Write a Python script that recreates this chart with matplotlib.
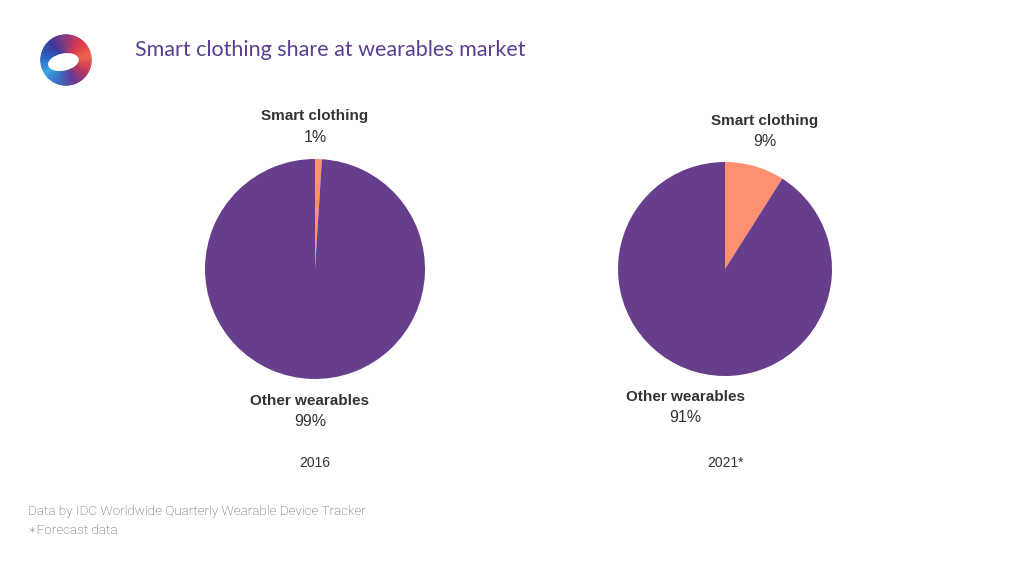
import numpy as np
import matplotlib
matplotlib.use('Agg')
import matplotlib.pyplot as plt
from matplotlib.patches import Wedge, Ellipse
from matplotlib.colors import LinearSegmentedColormap

plt.rcParams.update({
    "font.family": ["Liberation Sans", "DejaVu Sans"],
})

W, H = 1024, 576

# data
years = ['2016', '2021*']
categories = ['Smart clothing', 'Other wearables']
smart_share = [1, 9]
other_share = [99, 91]

PURPLE = '#673e8c'
SALMON = '#fe9070'
TEXT = '#333333'

fig = plt.figure(figsize=(W / 100, H / 100), dpi=100)
fig.patch.set_facecolor('white')


def px(x, y):
    return x / W, 1 - y / H


# pie positions (centre x, centre y, radius) in pixels
pies = [(315, 269, 110), (725, 269, 107)]
# label anchors: smart label, other label
label_pos = [((315, 116), (310, 401)), ((765, 121), (685, 397))]

for i, (cx, cy, r) in enumerate(pies):
    ax = fig.add_axes([(cx - r) / W, 1 - (cy + r) / H, 2 * r / W, 2 * r / H])
    ax.pie([smart_share[i], other_share[i]], colors=[SALMON, PURPLE],
           startangle=90, counterclock=False, radius=1,
           wedgeprops=dict(linewidth=0))
    ax.set_xlim(-1, 1)
    ax.set_ylim(-1, 1)
    ax.set_aspect('auto')
    ax.axis('off')

    (sx, sy), (ox, oy) = label_pos[i]
    vals = [smart_share[i], other_share[i]]
    for (lx, ly), cat, v in zip([(sx, sy), (ox, oy)], categories, vals):
        fig.text(*px(lx, ly), cat, ha='center', va='center', fontsize=11,
                 fontweight='bold', color=TEXT)
        fig.text(*px(lx, ly + 21), f'{v}%', ha='center', va='center',
                 fontsize=11.5, color=TEXT)
    fig.text(*px(cx, 463), years[i], ha='center', va='center',
             fontsize=10, color=TEXT)

# title
fig.text(*px(135, 50), 'Smart clothing share at wearables market', ha='left',
         va='center', fontsize=15.5, color='#5a3f91', family=['Lato', 'DejaVu Sans'])

# footnote
fig.text(*px(28, 511), 'Data by IDC Worldwide Quarterly Wearable Device Tracker',
         ha='left', va='center', fontsize=9.7, color='#555555',
         family=['Roboto', 'DejaVu Sans'], fontweight='light')
fig.text(*px(28, 530), '\u2217Forecast data', ha='left', va='center',
         fontsize=9.7, color='#555555', family=['Roboto', 'DejaVu Sans'],
         fontweight='light')

# logo ring with a smooth colour sweep
lax = fig.add_axes([40 / W, 1 - 86 / H, 52 / W, 52 / H])
lax.set_xlim(-1, 1)
lax.set_ylim(-1, 1)
lax.axis('off')
sweep = LinearSegmentedColormap.from_list(
    'logo', ['#f0624a', '#d8384e', '#8a3a80', '#3f3a9c', '#2a5fc0', '#39a6e0',
             '#3c6ac0', '#6a3a98', '#c0385a', '#f0624a'])
steps = 90
for k in range(steps):
    a0 = 10 + k * 360 / steps
    c = sweep(k / steps)
    lax.add_patch(Wedge((0, 0), 0.97, a0, a0 + 360 / steps + 1.0,
                        facecolor=c, edgecolor=c, lw=0.6, clip_on=False))
lax.add_patch(Ellipse((-0.1, -0.08), 1.2, 0.66, angle=12, color='white', lw=0))

fig.savefig('out.png', dpi=100, facecolor='white')
